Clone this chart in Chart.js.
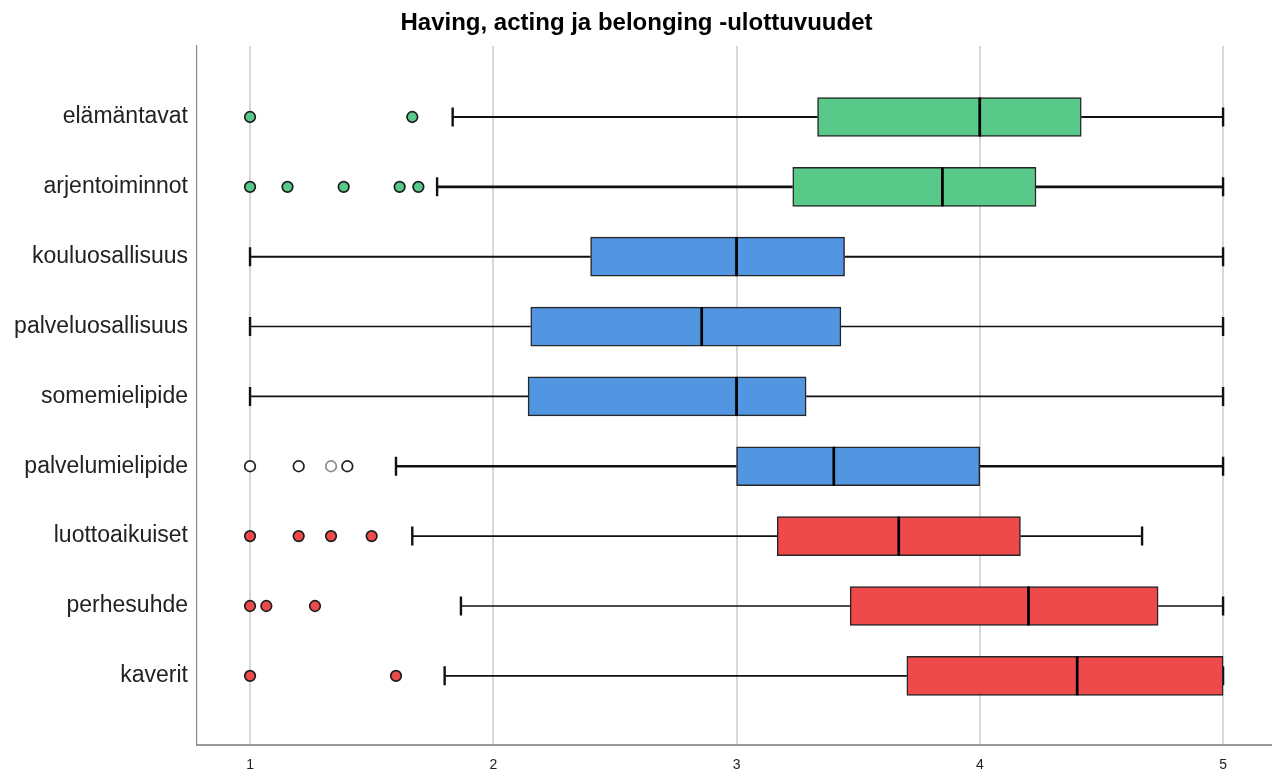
<!DOCTYPE html>
<html>
<head>
<meta charset="utf-8">
<script src="https://cdn.jsdelivr.net/npm/chart.js@4"></script>
<style>
  html, body { margin: 0; padding: 0; background: #ffffff; }
  #wrap { width: 1278px; height: 773px; }
</style>
</head>
<body>
<div id="wrap"><canvas id="c" width="1278" height="773"></canvas></div>
<script>
const chartTitle = 'Having, acting ja belonging -ulottuvuudet';
const categories = ['elämäntavat', 'arjentoiminnot', 'kouluosallisuus', 'palveluosallisuus', 'somemielipide', 'palvelumielipide', 'luottoaikuiset', 'perhesuhde', 'kaverit'];
const whiskerMin = [1.833, 1.769, 1.0, 1.0, 1.0, 1.6, 1.667, 1.867, 1.8];
const q1Values = [3.333, 3.231, 2.4, 2.154, 2.143, 3.0, 3.167, 3.467, 3.7];
const medianValues = [4.0, 3.846, 3.0, 2.857, 3.0, 3.4, 3.667, 4.2, 4.4];
const q3Values = [4.417, 4.231, 3.444, 3.429, 3.286, 4.0, 4.167, 4.733, 5.0];
const whiskerMax = [5.0, 5.0, 5.0, 5.0, 5.0, 5.0, 4.667, 5.0, 5.0];
const outlierValues = [
  [1.0, 1.667],
  [1.0, 1.154, 1.385, 1.615, 1.692],
  [],
  [],
  [],
  [1.0, 1.2, 1.333, 1.4],
  [1.0, 1.2, 1.333, 1.5],
  [1.0, 1.067, 1.267],
  [1.0, 1.6]
];
const xTickValues = [1, 2, 3, 4, 5];

// styling (not data)
const GREEN = '#59c98a', BLUE = '#5296e2', RED = '#ee4a4b';
const rowColors = [GREEN, GREEN, BLUE, BLUE, BLUE, BLUE, RED, RED, RED];
const outlierFill = [GREEN, GREEN, BLUE, BLUE, BLUE, '#ffffff', RED, RED, RED];
const whiskerWidths = [2, 2.6, 2, 1.6, 1.8, 2.6, 1.6, 1.4, 1.6];

const rowPos = categories.map((c, i) => i + 1);

const lowerHalf = categories.map((c, i) => ({ x: [q1Values[i], medianValues[i]], y: rowPos[i] }));
const upperHalf = categories.map((c, i) => ({ x: [medianValues[i], q3Values[i]], y: rowPos[i] }));

const outlierPoints = [];
const outlierBg = [];
const outlierBorder = [];
outlierValues.forEach((vals, i) => {
  vals.forEach(v => {
    outlierPoints.push({ x: v, y: rowPos[i] });
    outlierBg.push(outlierFill[i]);
    outlierBorder.push(i === 5 && Math.abs(v - 1.333) < 0.01 ? '#8a8a8a' : '#1e1e1e');
  });
});

const whiskerPlugin = {
  id: 'whiskers',
  beforeDatasetsDraw(chart) {
    const ctx = chart.ctx;
    const xs = chart.scales.x, ys = chart.scales.y;
    ctx.save();
    ctx.strokeStyle = '#111111';
    categories.forEach((c, i) => {
      const y = ys.getPixelForValue(rowPos[i]);
      const xMin = xs.getPixelForValue(whiskerMin[i]);
      const xQ1 = xs.getPixelForValue(q1Values[i]);
      const xQ3 = xs.getPixelForValue(q3Values[i]);
      const xMax = xs.getPixelForValue(whiskerMax[i]);
      ctx.lineWidth = whiskerWidths[i];
      ctx.beginPath();
      ctx.moveTo(xMin, y); ctx.lineTo(xQ1, y);
      ctx.moveTo(xQ3, y); ctx.lineTo(xMax, y);
      ctx.stroke();
      ctx.lineWidth = 2.4;
      ctx.beginPath();
      ctx.moveTo(xMin, y - 9.5); ctx.lineTo(xMin, y + 9.5);
      ctx.moveTo(xMax, y - 9.5); ctx.lineTo(xMax, y + 9.5);
      ctx.stroke();
    });
    ctx.restore();
  },
  afterDatasetsDraw(chart) {
    const ctx = chart.ctx;
    const xs = chart.scales.x, ys = chart.scales.y;
    ctx.save();
    ctx.strokeStyle = '#000000';
    ctx.lineWidth = 2.6;
    categories.forEach((c, i) => {
      const y = ys.getPixelForValue(rowPos[i]);
      const xMed = xs.getPixelForValue(medianValues[i]);
      ctx.beginPath();
      ctx.moveTo(xMed, y - 19.5); ctx.lineTo(xMed, y + 19.5);
      ctx.stroke();
    });
    ctx.restore();
  }
};

new Chart(document.getElementById('c'), {
  type: 'bar',
  data: {
    datasets: [
      {
        type: 'scatter',
        data: outlierPoints,
        pointRadius: 5.3,
        pointHoverRadius: 5.3,
        pointBackgroundColor: outlierBg,
        pointBorderColor: outlierBorder,
        pointBorderWidth: 1.7
      },
      {
        indexAxis: 'y',
        grouped: false,
        data: lowerHalf,
        backgroundColor: rowColors,
        borderColor: '#262626',
        borderWidth: 1.5,
        borderSkipped: false,
        barThickness: 39
      },
      {
        indexAxis: 'y',
        grouped: false,
        data: upperHalf,
        backgroundColor: rowColors,
        borderColor: '#262626',
        borderWidth: 1.5,
        borderSkipped: false,
        barThickness: 39
      }
    ]
  },
  options: {
    responsive: false,
    animation: false,
    layout: { padding: { left: 0, right: 5, top: 0, bottom: 0 } },
    plugins: {
      legend: { display: false },
      tooltip: { enabled: false },
      title: {
        display: true,
        text: chartTitle,
        color: '#000000',
        font: { family: 'Liberation Sans, Arial, sans-serif', size: 24, weight: 'bold' },
        padding: { top: 9, bottom: 8.2 }
      }
    },
    scales: {
      x: {
        type: 'linear',
        offset: false,
        beginAtZero: false,
        min: 0.782,
        max: 5.197,
        afterBuildTicks(scale) { scale.ticks = xTickValues.map(v => ({ value: v })); },
        afterFit(scale) { scale.height = 28; },
        grid: { display: true, offset: false, color: '#d8d8d8', lineWidth: 2, drawTicks: false },
        border: { display: true, color: '#9a9a9a', width: 2 },
        ticks: {
          color: '#222222',
          padding: 12,
          font: { family: 'Liberation Sans, Arial, sans-serif', size: 14 },
          callback: v => String(v)
        }
      },
      y: {
        type: 'linear',
        offset: false,
        beginAtZero: false,
        reverse: true,
        min: -0.016,
        max: 9.99,
        afterBuildTicks(scale) { scale.ticks = rowPos.map(v => ({ value: v })); },
        afterFit(scale) { scale.width = 197; },
        grid: { display: false, offset: false, drawTicks: false },
        border: { display: true, color: '#8a8a8a', width: 1.2 },
        ticks: {
          color: '#222222',
          padding: 9,
          font: { family: 'Liberation Sans, Arial, sans-serif', size: 23 },
          callback: v => categories[v - 1] || ''
        }
      }
    }
  },
  plugins: [whiskerPlugin]
});
</script>
</body>
</html>
